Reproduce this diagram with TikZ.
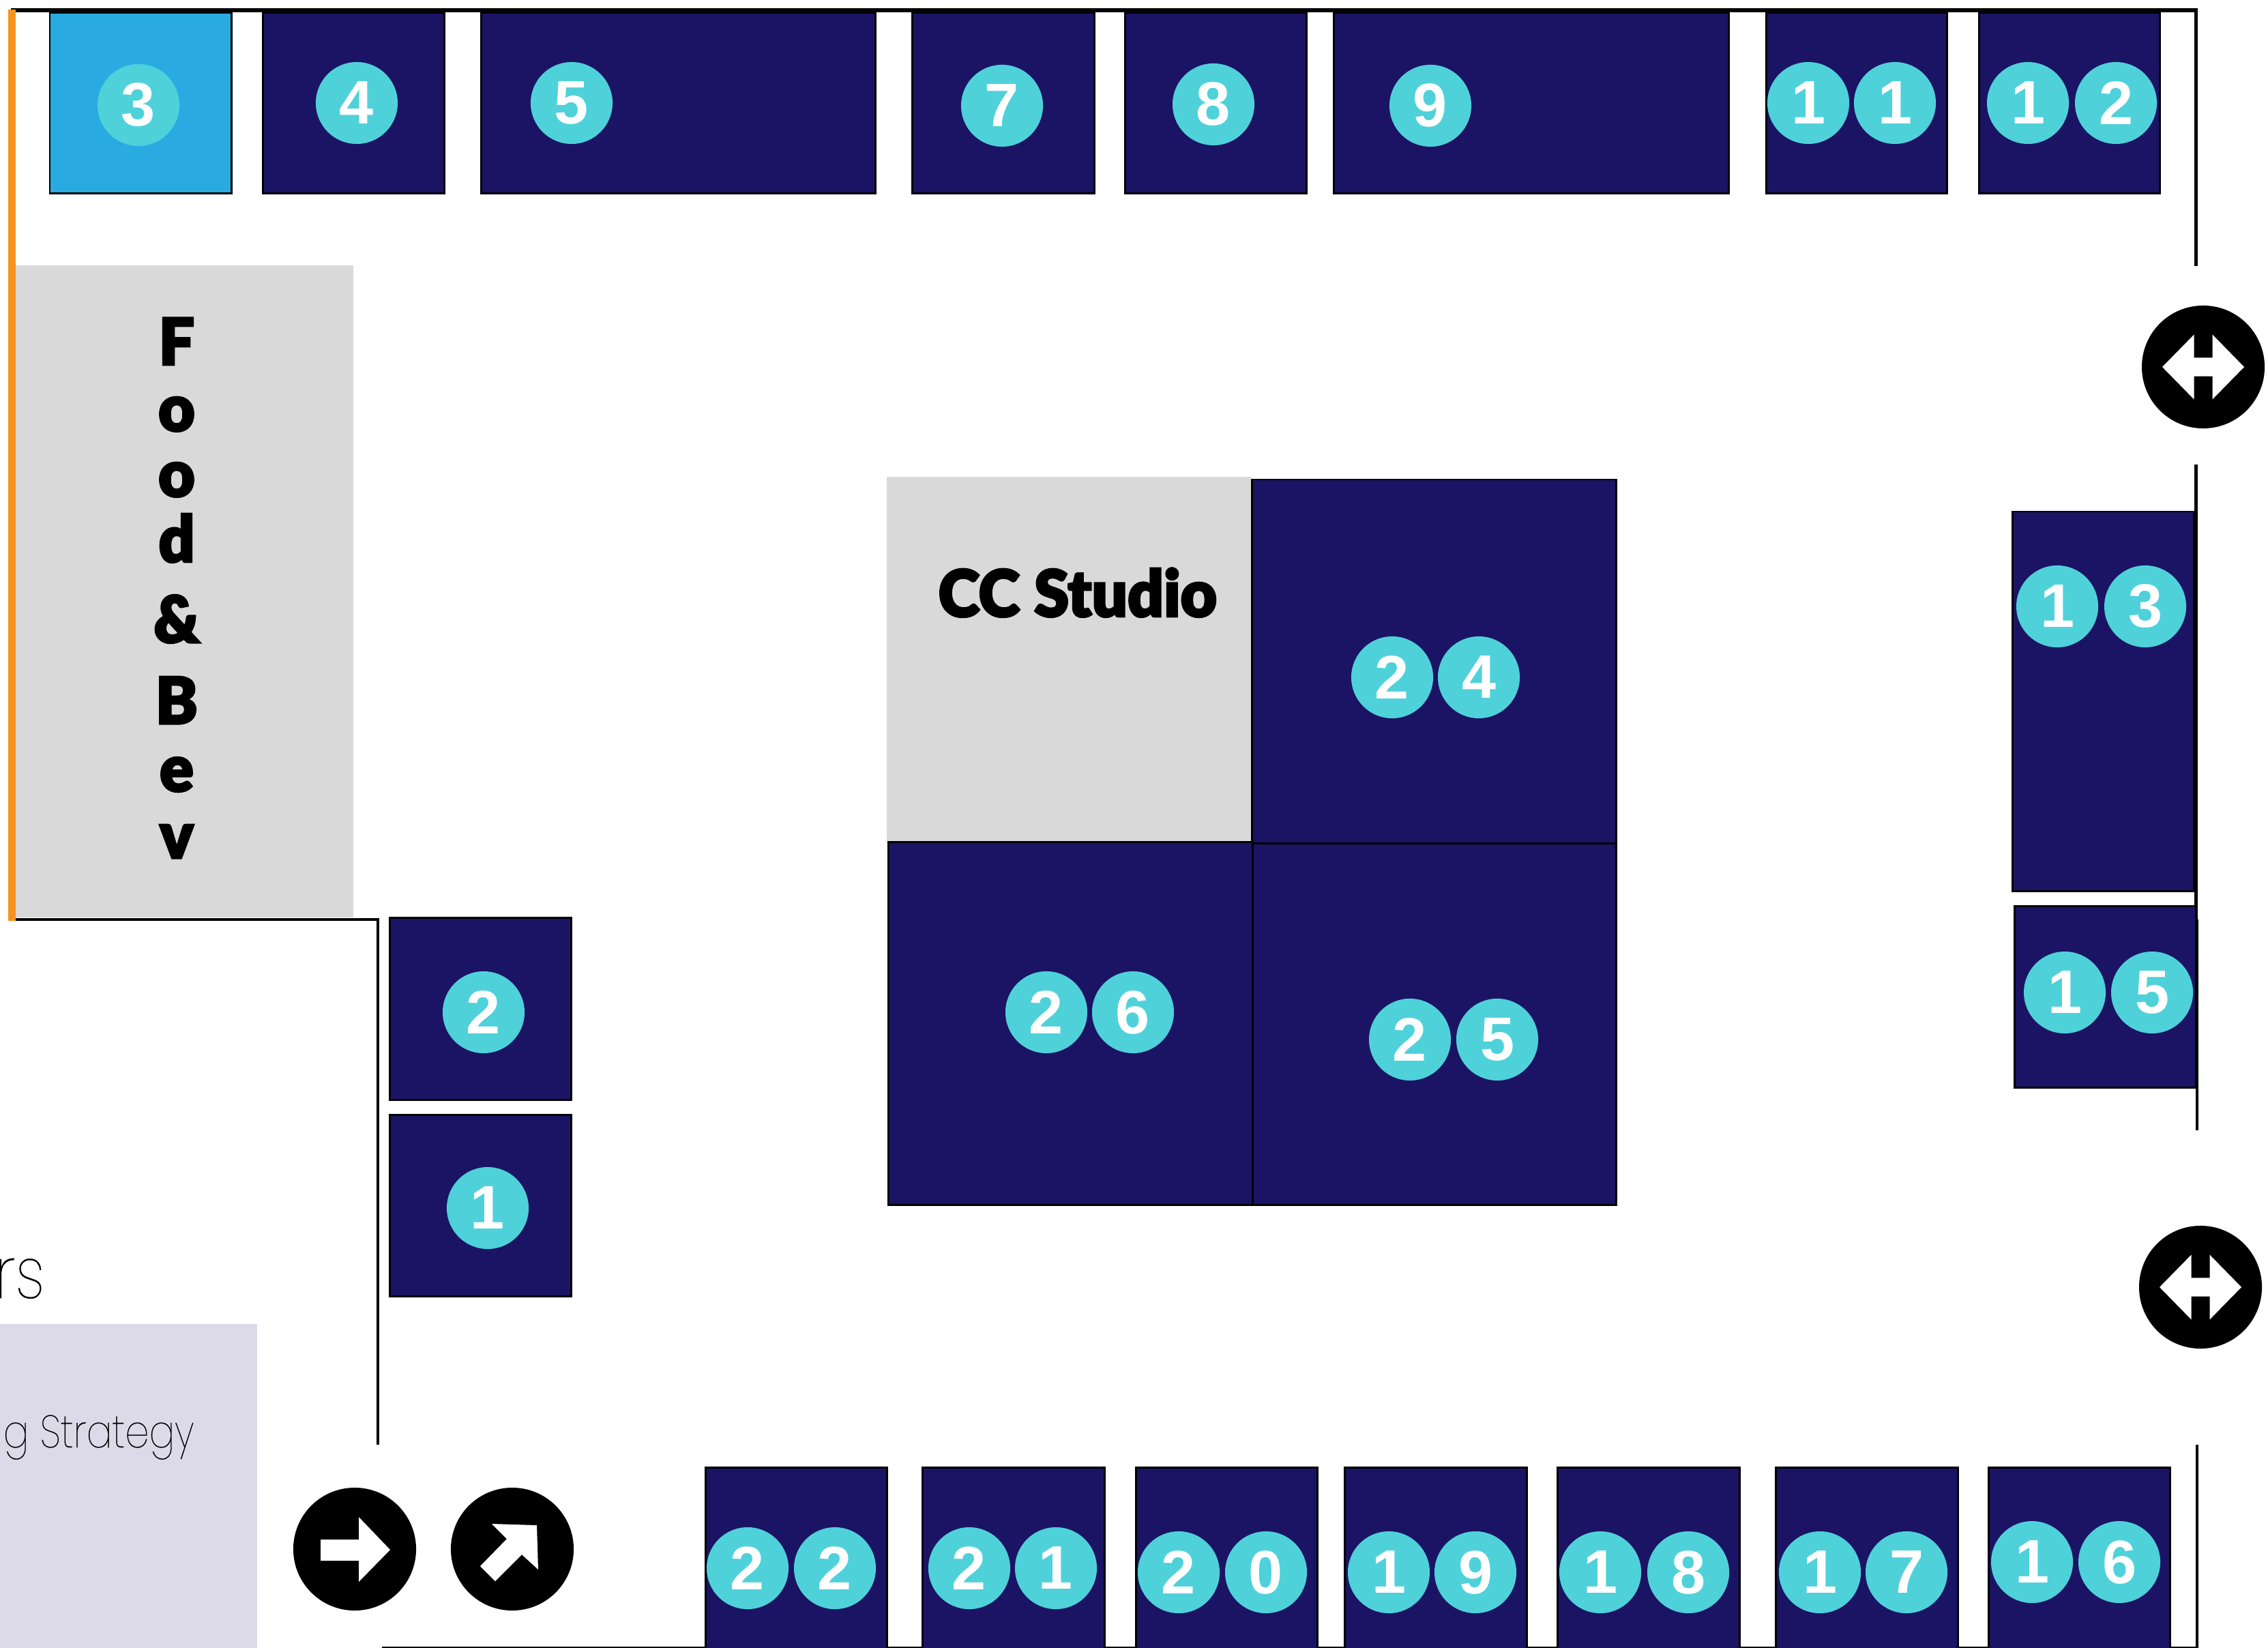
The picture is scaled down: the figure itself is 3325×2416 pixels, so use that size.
\documentclass[tikz,border=0pt]{standalone}
\usepackage{fontspec}
\setmainfont{Liberation Sans}
\newfontfamily\numfont{Liberation Sans Bold}
\newfontfamily\dispfont[FakeBold=3,FakeStretch=0.97]{Lato Black}
\newfontfamily\thinfont[FakeBold=0.4,FakeStretch=0.84]{Poppins Thin}
\definecolor{navy}{HTML}{1B1464}
\definecolor{sky}{HTML}{29ABE2}
\definecolor{aqua}{HTML}{4FD1DA}
\definecolor{wallorange}{HTML}{F7931E}
\definecolor{studio}{HTML}{D9D9D9}
\definecolor{lav}{HTML}{DCDAE8}
\tikzset{
  booth/.style={draw=black,line width=0.85pt,fill=navy},
  wall/.style={draw=black,line width=1.6pt},
  numdot/.style={circle,fill=aqua,minimum size=1.2cm,inner sep=0pt,text=white,font=\numfont\fontsize{25.6}{26}\selectfont},
  signdot/.style={circle,fill=black,minimum size=1.8cm,inner sep=0pt},
  signarrow/.style={fill=white,draw=none},
}
\begin{document}
\begin{tikzpicture}[x=0.01cm,y=-0.01cm]
\useasboundingbox (0,0) rectangle (3325,2416);
\fill[white] (0,0) rectangle (3325,2416);
% pale panels
\fill[lav] (0,1941) rectangle (377,2416);
\fill[studio] (23,389) rectangle (518,1345);
\fill[studio] (1300,699) rectangle (1834,1234);
% walls
\draw[wall] (16,15) -- (3222,15);
\draw[wall] (3219.5,15) -- (3219.5,390);
\draw[wall] (3219.5,681) -- (3219.5,1348);
\draw[wall,line width=1.3pt] (3220.8,1348) -- (3220.8,1657);
\draw[wall,line width=1.3pt] (3220.8,2118) -- (3220.8,2416);
\draw[wall,line width=1.3pt] (16,1348) -- (554,1348) -- (554,2118);
\draw[wall,line width=0.6pt] (560,2415) -- (3221,2415);
\fill[wallorange] (12,14) rectangle (23,1350);
% booths top
\draw[booth,fill=sky] (73,19) rectangle (339,284);
\draw[booth] (385,19) rectangle (651,284);
\draw[booth] (705,19) rectangle (1283,284);
\draw[booth] (1337,19) rectangle (1604,284);
\draw[booth] (1649,19) rectangle (1915,284);
\draw[booth] (1955,19) rectangle (2534,284);
\draw[booth] (2589,19) rectangle (2854,284);
\draw[booth] (2901,19) rectangle (3166,284);
% centre
\draw[booth] (1835,703) rectangle (2369,1236);
\draw[booth] (1302,1234) rectangle (1836,1766);
\draw[booth] (1836,1236) rectangle (2369,1766);
% right
\draw[booth] (2950,750) rectangle (3216,1306.5);
\draw[booth] (2953,1328) rectangle (3219,1594);
% left
\draw[booth] (571.5,1345) rectangle (837.5,1612);
\draw[booth] (571.5,1634) rectangle (837.5,1900.5);
% bottom
\draw[booth] (1034,2151.5) rectangle (1300,2420);
\draw[booth] (1352,2151.5) rectangle (1619,2420);
\draw[booth] (1665,2151.5) rectangle (1931,2420);
\draw[booth] (1971.5,2151.5) rectangle (2238,2420);
\draw[booth] (2283.5,2151.5) rectangle (2550,2420);
\draw[booth] (2603.5,2151.5) rectangle (2870,2420);
\draw[booth] (2915.5,2151.5) rectangle (3181.5,2420);
% numbers
\node[numdot] (n3) at (203,154) {3};
\node[numdot] (n4) at (523,151) {4};
\node[numdot] (n5) at (838,151) {5};
\node[numdot] (n7) at (1469,155) {7};
\node[numdot] (n8) at (1779,153) {8};
\node[numdot] (n9) at (2097,155) {9};
\node[numdot] (n11a) at (2651,151) {1};
\node[numdot] (n11b) at (2778,151) {1};
\node[numdot] (n12a) at (2973,151) {1};
\node[numdot] (n12b) at (3102,151) {2};
\node[numdot] (n24a) at (2041,993) {2};
\node[numdot] (n24b) at (2168,993) {4};
\node[numdot] (n26a) at (1534,1484) {2};
\node[numdot] (n26b) at (1661,1484) {6};
\node[numdot] (n25a) at (2067,1524) {2};
\node[numdot] (n25b) at (2195,1524) {5};
\node[numdot] (n13a) at (3016,889) {1};
\node[numdot] (n13b) at (3145,889) {3};
\node[numdot] (n15a) at (3027,1455) {1};
\node[numdot] (n15b) at (3155,1455) {5};
\node[numdot] (n2) at (709,1484) {2};
\node[numdot] (n1) at (715,1771) {1};
\node[numdot] (n22a) at (1096,2299) {2};
\node[numdot] (n22b) at (1224,2299) {2};
\node[numdot] (n21a) at (1421,2299) {2};
\node[numdot] (n21b) at (1548,2299) {1};
\node[numdot] (n20a) at (1728,2305) {2};
\node[numdot] (n20b) at (1856,2305) {0};
\node[numdot] (n19a) at (2036,2305) {1};
\node[numdot] (n19b) at (2163,2305) {9};
\node[numdot] (n18a) at (2346,2305) {1};
\node[numdot] (n18b) at (2475,2305) {8};
\node[numdot] (n17a) at (2668,2305) {1};
\node[numdot] (n17b) at (2795,2305) {7};
\node[numdot] (n16a) at (2979,2290) {1};
\node[numdot] (n16b) at (3107,2290) {6};
% signs
\node[signdot] (s1) at (3230,538) {};
\fill[signarrow,shift={(s1.center)}] (-60,0) -- (-13.5,-47.5) -- (-13.5,-13.7) -- (13.5,-13.7) -- (13.5,-47.5) -- (60,0) -- (13.5,47.5) -- (13.5,13.7) -- (-13.5,13.7) -- (-13.5,47.5) -- cycle;
\node[signdot] (s2) at (3226,1887) {};
\fill[signarrow,shift={(s2.center)}] (-60,0) -- (-13.5,-47.5) -- (-13.5,-13.7) -- (13.5,-13.7) -- (13.5,-47.5) -- (60,0) -- (13.5,47.5) -- (13.5,13.7) -- (-13.5,13.7) -- (-13.5,47.5) -- cycle;
\node[signdot] (s3) at (520,2271) {};
\fill[signarrow] (470,2257) -- (526,2257) -- (526,2224) -- (572,2272) -- (526,2319) -- (526,2288) -- (470,2288) -- cycle;
\node[signdot] (s4) at (751,2271) {};
\fill[signarrow] (721,2234) -- (787,2236) -- (789,2301) -- (765,2279) -- (726,2318) -- (704,2296) -- (743,2256) -- cycle;
% texts
\node[font=\dispfont\fontsize{27}{27}\selectfont,anchor=base west,inner sep=0pt] (cc) at (1375,904) {CC Studio};
\node[font=\dispfont\fontsize{27}{28.45}\selectfont,align=center,inner sep=0pt,anchor=north] (food) at (259,465) {F\\[-0.03cm]o\\[-0.04cm]o\\[-0.04cm]d\\[0.18cm]\&\\[0.19cm]B\\[-0.01cm]e\\[-0.02cm]v};
\node[font=\thinfont\fontsize{19}{20}\selectfont,anchor=base west,inner sep=0pt] (strat) at (4,2122) {g Strategy};
\node[font=\thinfont\fontsize{30}{31}\selectfont,anchor=base east,inner sep=0pt] (rs) at (66,1903) {rs};
\end{tikzpicture}
\end{document}
